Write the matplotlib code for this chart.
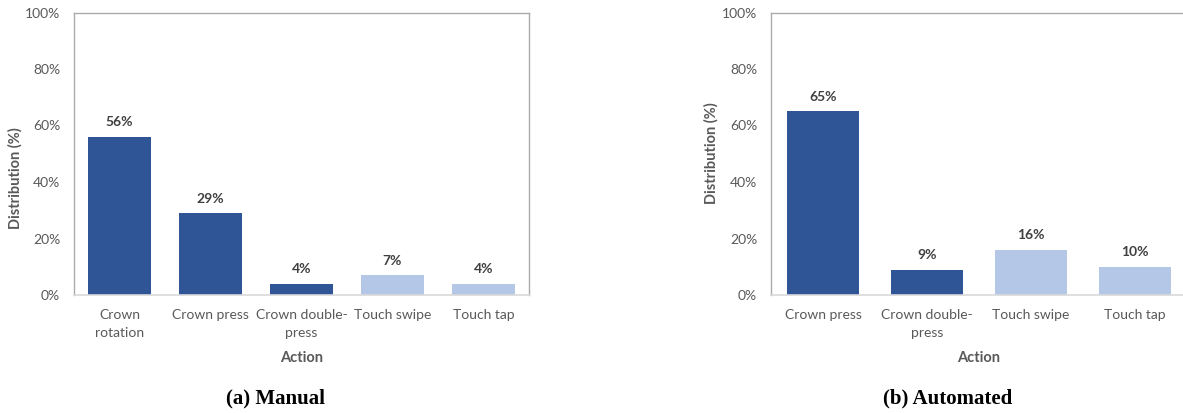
import matplotlib
matplotlib.use("Agg")
from matplotlib import pyplot as plt

# action distributions (percent)
manual_actions = ["Crown\nrotation", "Crown press", "Crown double-\npress", "Touch swipe", "Touch tap"]
manual_values = [56, 29, 4, 7, 4]

auto_actions = ["Crown press", "Crown double-\npress", "Touch swipe", "Touch tap"]
auto_values = [65, 9, 16, 10]

CROWN = "#2F5597"
TOUCH = "#B4C7E7"
TEXT = "#595959"

plt.rcParams["font.family"] = ["Lato", "DejaVu Sans"]

W, H = 1183, 413
fig = plt.figure(figsize=(W / 100, H / 100), dpi=100)


def px_axes(x0, x1, y0, y1):
    return fig.add_axes([x0 / W, 1 - y1 / H, (x1 - x0) / W, (y1 - y0) / H])


def draw(ax, actions, values, caption, cap_x, ylab_x, ylab_y):
    colors = [CROWN if a.startswith("Crown") else TOUCH for a in actions]
    x = range(len(actions))
    bars = ax.bar(x, values, width=0.69, color=colors)
    for b, v in zip(bars, values):
        ax.annotate(f"{v}%", (b.get_x() + b.get_width() / 2, v),
                    xytext=(0, 6), textcoords="offset points",
                    ha="center", va="bottom", fontsize=10, fontweight="bold",
                    color="#404040")
    ax.set_xlim(-0.5, len(actions) - 0.5)
    ax.set_ylim(0, 100)
    ax.set_yticks(range(0, 101, 20))
    ax.set_yticklabels([f"{t}%" for t in range(0, 101, 20)])
    ax.set_xticks(list(x))
    ax.set_xticklabels(actions, linespacing=1.6)
    ax.tick_params(axis="both", length=0, labelsize=10, colors=TEXT)
    ax.tick_params(axis="y", pad=10)
    ax.tick_params(axis="x", pad=10)
    for s in ["left", "top", "right"]:
        ax.spines[s].set_color("#ababab")
        ax.spines[s].set_linewidth(1.0)
    ax.spines["bottom"].set_color("#d9d9d9")
    ax.spines["bottom"].set_linewidth(1.2)
    ax.set_xlabel("Action", fontsize=10.5, fontweight="bold", color=TEXT, labelpad=9)
    ax.set_ylabel("Distribution (%)", fontsize=10.5, fontweight="bold", color=TEXT)
    ax.yaxis.set_label_coords(ylab_x / W, 1 - ylab_y / H, transform=fig.transFigure)
    fig.text(cap_x / W, 1 - 398 / H, caption, ha="center", va="center",
             fontsize=15, fontweight="bold", family="Liberation Serif")


ax1 = px_axes(74, 529, 12.5, 295)
draw(ax1, manual_actions, manual_values, "(a) Manual", 275, 23, 178)

ax2 = px_axes(771, 1187, 12.5, 295)
draw(ax2, auto_actions, auto_values, "(b) Automated", 948, 719, 153)

plt.savefig("out.png", dpi=100)
